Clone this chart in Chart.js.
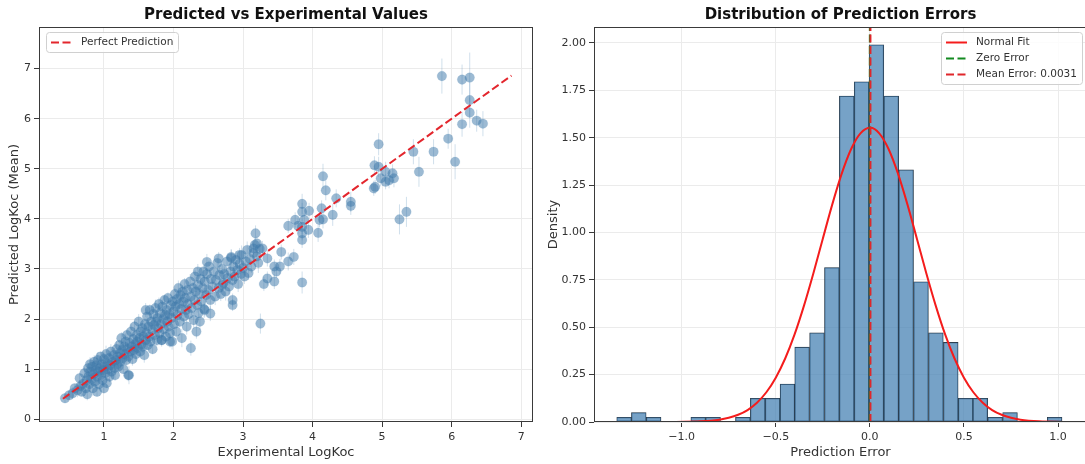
<!DOCTYPE html>
<html>
<head>
<meta charset="utf-8">
<script src="https://cdn.jsdelivr.net/npm/chart.js@4.4.1/dist/chart.umd.min.js"></script>
<style>
  html, body { margin: 0; padding: 0; background: #fff; overflow: hidden; width: 1085px; height: 464px; }
  #predChart { position: absolute; left: 0; top: 0; }
  #errChart { position: absolute; left: 540px; top: 0; }
</style>
</head>
<body>
<canvas id="predChart" width="540" height="464"></canvas>
<canvas id="errChart" width="547" height="464"></canvas>
<script>
// ---- left panel: predicted vs experimental ----
var experimental = [
  // low end of the band
  0.44,0.50,0.55,0.58,0.62,0.65,0.66,0.70,0.72,0.74,0.75,0.77,0.78,0.79,0.80,0.80,0.68,0.76,
  0.82,0.83,0.84,0.85,0.86,0.87,0.88,0.89,0.90,0.90,
  0.91,0.92,0.93,0.94,0.95,0.96,0.97,0.98,0.99,1.00,
  1.00,1.01,1.02,1.03,1.04,1.05,1.06,1.07,1.08,1.09,
  1.10,1.11,1.12,1.14,1.15,1.16,1.17,1.18,1.19,1.20,
  1.21,1.22,1.23,1.24,1.25,1.26,1.27,1.28,1.29,1.30,
  1.31,1.32,1.33,1.34,1.35,1.36,1.37,1.38,1.39,1.40,
  1.41,1.42,1.43,1.44,1.45,1.46,1.47,1.48,1.49,1.50,
  1.51,1.52,1.53,1.54,1.55,1.56,1.57,1.58,1.59,1.60,
  1.61,1.62,1.63,1.64,1.65,1.66,1.67,1.68,1.69,1.70,
  1.71,1.72,1.73,1.74,1.75,1.76,1.77,1.78,1.79,1.80,
  1.81,1.82,1.83,1.84,1.85,1.86,1.87,1.88,1.89,1.90,
  1.91,1.92,1.93,1.94,1.95,1.96,1.97,1.98,1.99,2.00,
  2.01,2.02,2.03,2.04,2.05,2.06,2.07,2.08,2.09,2.10,
  2.11,2.12,2.13,2.14,2.15,2.16,2.17,2.18,2.19,2.20,
  2.21,2.22,2.24,2.25,2.26,2.28,2.29,2.30,2.31,2.32,
  2.34,2.35,2.36,2.38,2.39,2.40,
  2.42,2.43,2.44,2.45,2.47,2.48,2.50,2.51,2.53,2.54,
  2.56,2.58,2.60,2.61,2.63,2.65,2.66,2.68,2.70,2.72,
  2.73,2.75,2.77,2.78,2.80,
  2.82,2.83,2.85,2.86,2.88,2.90,2.92,2.93,2.95,2.97,
  2.98,3.00,3.02,3.04,3.06,3.08,3.10,3.12,3.15,3.17,
  3.20,3.22,3.24,
  // upper range and outliers
  5.86,6.15,6.26,6.26,6.26,6.15,6.36,6.45,5.95,6.05,
  5.74,5.45,5.53,4.95,4.89,4.95,5.05,5.15,5.10,5.17,
  5.05,4.98,4.88,4.90,5.35,5.25,4.55,4.55,4.15,4.19,
  4.34,4.29,4.13,4.15,4.10,4.08,3.95,3.85,3.85,3.85,
  3.85,3.85,3.79,3.88,3.94,3.65,3.75,3.85,3.65,3.73,
  3.55,3.35,3.45,3.53,3.48,3.35,3.45,3.30,3.25,3.18,
  3.20,3.28,3.15,
  2.25,2.33,2.38,1.95,1.83,1.35,1.60,2.35,2.48,2.65,
  2.83,2.95,2.85,2.85,2.70,2.45,2.53
];
var predicted = [
  0.42,0.48,0.52,0.62,0.58,0.82,0.66,0.71,0.92,0.62,0.78,1.02,0.86,0.70,0.95,1.10,0.55,0.50,
  0.80,1.05,0.62,0.90,1.15,0.75,0.98,1.08,0.55,0.85,
  1.18,0.95,0.70,1.02,1.25,0.88,1.10,0.78,0.98,1.20,
  0.62,1.05,0.92,1.30,0.72,1.12,1.00,1.22,0.85,1.08,
  1.35,0.95,1.15,1.28,1.02,0.88,1.18,1.40,1.10,1.25,
  1.05,1.48,1.32,1.15,1.62,1.38,1.22,1.00,1.45,1.30,
  1.55,1.18,1.68,1.40,1.25,0.88,1.52,1.35,1.75,1.45,
  1.20,1.60,1.38,1.85,1.50,1.30,1.68,1.55,1.42,1.95,
  1.62,1.35,1.75,1.50,1.82,1.45,1.65,1.28,1.90,1.58,
  1.72,2.05,1.48,1.85,1.65,2.18,1.55,1.95,1.78,1.40,
  2.10,1.88,1.68,2.22,1.95,1.58,2.02,1.82,2.30,1.72,
  2.12,1.90,1.58,2.25,2.00,1.80,2.38,2.08,1.65,2.18,
  1.95,2.42,1.85,2.10,1.72,2.28,2.02,1.55,2.35,2.15,
  1.90,2.50,2.25,1.75,2.40,2.08,2.62,2.30,1.95,2.48,
  2.20,1.62,2.55,2.35,2.05,2.70,2.42,2.18,1.85,2.58,
  2.30,2.10,2.75,2.45,2.22,2.62,1.98,2.38,2.85,2.55,
  2.28,2.68,2.12,2.50,2.80,2.35,
  2.62,2.95,2.20,2.75,2.48,2.90,2.58,3.05,2.38,2.80,
  2.65,2.95,2.45,2.78,3.12,2.62,2.88,2.50,3.00,2.72,
  2.90,2.55,3.15,2.82,2.65,
  2.95,3.22,2.78,3.05,2.85,3.18,2.98,2.70,3.10,2.90,
  3.28,3.02,2.85,3.15,3.38,2.92,3.20,3.05,3.32,3.48,
  3.25,3.12,3.40,
  6.85,6.78,6.82,6.37,6.12,5.89,5.96,5.90,5.60,5.14,
  5.34,5.34,4.94,5.49,5.07,5.04,4.94,4.91,4.77,4.81,
  4.74,4.81,4.61,4.64,4.14,3.99,4.34,4.26,4.85,4.57,
  4.41,4.08,4.21,3.99,3.98,3.72,4.16,4.30,4.14,3.84,
  3.71,3.58,3.86,3.98,3.78,3.86,3.98,2.73,3.15,3.24,
  3.34,3.21,3.05,3.05,2.95,2.81,2.75,2.70,1.91,3.71,
  3.51,3.41,3.41,
  1.42,1.75,1.95,1.55,1.58,0.88,2.18,2.95,3.14,3.21,
  3.24,3.28,2.28,2.38,2.68,2.18,2.11
];
var predictedStd = [
  0.10,0.08,0.12,0.09,0.14,0.11,0.08,0.10,0.13,0.09,0.12,0.15,0.10,0.08,0.11,0.14,0.09,0.12,
  0.12,0.10,0.15,0.09,0.13,0.11,0.08,0.14,0.10,0.12,
  0.16,0.09,0.11,0.13,0.10,0.14,0.08,0.12,0.09,0.15,
  0.11,0.10,0.13,0.17,0.09,0.12,0.08,0.14,0.11,0.10,
  0.15,0.09,0.12,0.13,0.10,0.11,0.14,0.16,0.09,0.12,
  0.13,0.11,0.09,0.15,0.12,0.10,0.14,0.08,0.13,0.11,
  0.16,0.09,0.12,0.14,0.10,0.18,0.11,0.09,0.15,0.12,
  0.13,0.10,0.14,0.11,0.09,0.16,0.12,0.10,0.13,0.15,
  0.11,0.09,0.14,0.12,0.10,0.13,0.11,0.15,0.12,0.09,
  0.12,0.14,0.10,0.13,0.16,0.11,0.09,0.15,0.12,0.10,
  0.14,0.11,0.13,0.17,0.10,0.12,0.15,0.09,0.13,0.11,
  0.12,0.16,0.10,0.14,0.11,0.13,0.09,0.15,0.12,0.10,
  0.13,0.11,0.17,0.09,0.14,0.12,0.10,0.16,0.11,0.13,
  0.14,0.12,0.10,0.16,0.11,0.13,0.15,0.09,0.12,0.14,
  0.10,0.18,0.13,0.11,0.15,0.12,0.09,0.14,0.16,0.11,
  0.13,0.10,0.15,0.12,0.14,0.11,0.17,0.09,0.13,0.12,
  0.15,0.10,0.14,0.12,0.11,0.13,
  0.15,0.12,0.18,0.11,0.14,0.13,0.16,0.12,0.19,0.10,
  0.14,0.13,0.17,0.11,0.15,0.12,0.16,0.14,0.13,0.11,
  0.15,0.18,0.12,0.14,0.16,
  0.14,0.17,0.12,0.15,0.13,0.18,0.11,0.16,0.14,0.12,
  0.19,0.13,0.15,0.12,0.17,0.14,0.16,0.13,0.18,0.15,
  0.14,0.20,0.16,
  0.35,0.30,0.50,0.35,0.30,0.25,0.22,0.25,0.20,0.35,
  0.25,0.25,0.30,0.22,0.18,0.20,0.20,0.18,0.16,0.18,
  0.15,0.16,0.15,0.14,0.30,0.30,0.20,0.18,0.25,0.20,
  0.18,0.22,0.16,0.18,0.15,0.18,0.16,0.20,0.18,0.15,
  0.14,0.16,0.15,0.14,0.16,0.14,0.15,0.22,0.18,0.16,
  0.15,0.16,0.14,0.15,0.13,0.14,0.15,0.14,0.20,0.16,
  0.14,0.15,0.13,
  0.15,0.14,0.16,0.12,0.13,0.12,0.14,0.15,0.16,0.13,
  0.15,0.14,0.12,0.13,0.14,0.13,0.15
];
var diagonalRange = [0.41, 6.86];
var predXTicks = [1, 2, 3, 4, 5, 6, 7];
var predYTicks = [0, 1, 2, 3, 4, 5, 6, 7];

// ---- right panel: error histogram ----
var binCenters = [-1.306,-1.228,-1.149,-1.070,-0.991,-0.912,-0.833,-0.754,-0.675,-0.596,
                  -0.517,-0.438,-0.360,-0.281,-0.202,-0.123,-0.044,0.035,0.114,0.193,
                  0.272,0.351,0.430,0.509,0.587,0.666,0.745,0.824,0.903,0.982];
var density = [0.025,0.05,0.025,0,0,0.025,0.025,0,0.025,0.125,
               0.125,0.20,0.395,0.47,0.815,1.72,1.795,1.99,1.72,1.33,
               0.74,0.47,0.42,0.125,0.125,0.025,0.05,0,0,0.025];
var fitX = [-1.03,-0.9,-0.8,-0.75,-0.7,-0.65,-0.6,-0.55,-0.5,-0.45,-0.4,-0.35,-0.3,-0.25,-0.2,-0.15,-0.1,-0.05,
            0.003,0.05,0.1,0.15,0.2,0.25,0.3,0.35,0.4,0.45,0.5,0.55,0.6,0.65,0.7,0.75,0.8,0.9,1.03];
var fitY = [0.0005,0.0034,0.0122,0.022,0.038,0.063,0.102,0.157,0.234,0.335,0.462,0.614,0.785,0.967,1.147,1.309,1.439,1.523,
            1.552,1.523,1.439,1.309,1.147,0.967,0.785,0.614,0.462,0.335,0.234,0.157,0.102,0.063,0.038,0.022,0.0122,0.0034,0.0005];
var zeroError = 0;
var meanError = 0.0031;
var errXTicks = [-1.0, -0.5, 0.0, 0.5, 1.0];
var errXLabels = ['\u22121.0', '\u22120.5', '0.0', '0.5', '1.0'];
var densityTicks = [0, 0.25, 0.5, 0.75, 1.0, 1.25, 1.5, 1.75, 2.0];
var densityLabels = ['0.00', '0.25', '0.50', '0.75', '1.00', '1.25', '1.50', '1.75', '2.00'];

Chart.defaults.font.family = "'DejaVu Sans', sans-serif";
Chart.defaults.color = '#333';
Chart.defaults.animation = false;

var GRID = '#ebebeb';
var SPINE = '#3a3a3a';

// box round the plotting area, like matplotlib spines
var framePlugin = {
  id: 'frame',
  afterDraw: function(chart) {
    var a = chart.chartArea, ctx = chart.ctx;
    ctx.save();
    ctx.strokeStyle = SPINE;
    ctx.lineWidth = 1;
    ctx.strokeRect(Math.round(a.left) + 0.5, Math.round(a.top) + 0.5,
                   Math.round(a.right - a.left) - 1, Math.round(a.bottom - a.top) - 1);
    ctx.restore();
  }
};

// legend drawn inside the axes, with line samples
var lineLegend = {
  id: 'lineLegend',
  afterDraw: function(chart, args, opts) {
    var items = chart.data.datasets.filter(function(d) { return d.label; });
    if (!items.length) return;
    var ctx = chart.ctx, a = chart.chartArea;
    ctx.save();
    ctx.font = "10.5px 'DejaVu Sans', sans-serif";
    var tw = Math.max.apply(null, items.map(function(d) { return ctx.measureText(d.label).width; }));
    var w = Math.round(35 + tw + 5), h = 16 * items.length + 4;
    var x0 = opts.side === 'right' ? Math.round(a.right - opts.inset - w) : Math.round(a.left + opts.inset);
    var y0 = Math.round(a.top + 5);
    ctx.fillStyle = 'rgba(255,255,255,0.85)';
    ctx.strokeStyle = '#d0d0d0';
    ctx.lineWidth = 1;
    ctx.beginPath();
    if (ctx.roundRect) ctx.roundRect(x0 + 0.5, y0 + 0.5, w, h, 3); else ctx.rect(x0 + 0.5, y0 + 0.5, w, h);
    ctx.fill();
    ctx.stroke();
    items.forEach(function(d, i) {
      var cy = y0 + 10.5 + i * 16;
      ctx.strokeStyle = d.borderColor;
      ctx.lineWidth = d.borderWidth;
      ctx.setLineDash(d.borderDash || []);
      ctx.beginPath();
      ctx.moveTo(x0 + 5, cy);
      ctx.lineTo(x0 + 26, cy);
      ctx.stroke();
      ctx.setLineDash([]);
      ctx.fillStyle = '#333';
      ctx.textBaseline = 'middle';
      ctx.fillText(d.label, x0 + 35, cy);
    });
    ctx.restore();
  }
};

// vertical error bars (mean +/- std) under the scatter markers
var errorBars = {
  id: 'errorBars',
  beforeDatasetsDraw: function(chart) {
    var ys = chart.scales.y, ctx = chart.ctx;
    var meta = chart.getDatasetMeta(0);
    ctx.save();
    ctx.strokeStyle = 'rgba(70,130,180,0.25)';
    ctx.lineWidth = 1;
    meta.data.forEach(function(pt, i) {
      var v = predicted[i], s = predictedStd[i];
      ctx.beginPath();
      ctx.moveTo(pt.x, ys.getPixelForValue(v - s));
      ctx.lineTo(pt.x, ys.getPixelForValue(v + s));
      ctx.stroke();
    });
    ctx.restore();
  }
};

function tickSetter(values) {
  return function(scale) { scale.ticks = values.map(function(v) { return { value: v }; }); };
}

var scatterPoints = experimental.map(function(x, i) { return { x: x, y: predicted[i] }; });

new Chart(document.getElementById('predChart'), {
  type: 'scatter',
  data: {
    datasets: [{
      data: scatterPoints,
      pointRadius: 4.8,
      pointBackgroundColor: 'rgba(66,122,170,0.52)',
      pointBorderColor: 'rgba(66,122,170,0.2)',
      pointBorderWidth: 0.5,
      order: 1
    }, {
      type: 'line',
      label: 'Perfect Prediction',
      data: diagonalRange.map(function(v) { return { x: v, y: v }; }),
      borderColor: '#e3262d',
      borderWidth: 2,
      borderDash: [8, 3.5],
      pointRadius: 0,
      fill: false,
      order: 0
    }]
  },
  options: {
    responsive: false,
    layout: { padding: { left: 0, right: 7, top: 0, bottom: 0 } },
    plugins: {
      legend: { display: false },
      tooltip: { enabled: false },
      title: {
        display: true, fullSize: false,
        text: 'Predicted vs Experimental Values',
        font: { size: 15, weight: 'bold' }, color: '#111',
        padding: { top: 6, bottom: 3 }
      },
      lineLegend: { side: 'left', inset: 7 }
    },
    scales: {
      x: {
        type: 'linear', min: 0.066, max: 7.17,
        afterBuildTicks: tickSetter(predXTicks),
        afterFit: function(s) { s.height = 42; },
        ticks: { font: { size: 11 }, color: '#333', padding: 4, maxRotation: 0, autoSkip: false,
                 callback: function(v) { return String(v); } },
        grid: { color: GRID, tickColor: SPINE, tickLength: 5 },
        border: { display: false },
        title: { display: true, text: 'Experimental LogKoc', font: { size: 13 }, color: '#333',
                 padding: { top: 0, bottom: 4 } }
      },
      y: {
        type: 'linear', min: -0.054, max: 7.83,
        afterBuildTicks: tickSetter(predYTicks),
        afterFit: function(s) { s.width = 39; },
        ticks: { font: { size: 11 }, color: '#333', padding: 3, autoSkip: false,
                 callback: function(v) { return String(v); } },
        grid: { color: GRID, tickColor: SPINE, tickLength: 5 },
        border: { display: false },
        title: { display: true, text: 'Predicted LogKoc (Mean)', font: { size: 13 }, color: '#333',
                 padding: { top: 7, bottom: 0 } }
      }
    }
  },
  plugins: [errorBars, framePlugin, lineLegend]
});

new Chart(document.getElementById('errChart'), {
  type: 'bar',
  data: {
    datasets: [{
      type: 'bar',
      data: binCenters.map(function(c, i) { return { x: c, y: density[i] || null }; }),
      backgroundColor: 'rgba(70,130,180,0.74)',
      borderColor: 'rgba(15,25,35,0.9)',
      borderWidth: 0.6,
      borderSkipped: false,
      barPercentage: 1,
      categoryPercentage: 1,
      order: 4
    }, {
      type: 'line',
      label: 'Normal Fit',
      data: fitX.map(function(x, i) { return { x: x, y: fitY[i] }; }),
      borderColor: '#f41c1c',
      borderWidth: 2,
      pointRadius: 0,
      cubicInterpolationMode: 'monotone',
      fill: false,
      order: 3
    }, {
      type: 'line',
      label: 'Zero Error',
      data: [{ x: zeroError, y: 0 }, { x: zeroError, y: 2.084 }],
      borderColor: '#138a20',
      borderWidth: 2,
      borderDash: [8, 3.5],
      pointRadius: 0,
      fill: false,
      order: 2
    }, {
      type: 'line',
      label: 'Mean Error: ' + meanError.toFixed(4),
      data: [{ x: meanError, y: 0 }, { x: meanError, y: 2.084 }],
      borderColor: '#e0262b',
      borderWidth: 2,
      borderDash: [8, 3.5],
      pointRadius: 0,
      fill: false,
      order: 1
    }]
  },
  options: {
    responsive: false,
    layout: { padding: { left: 0, right: 0, top: 0, bottom: 0 } },
    plugins: {
      legend: { display: false },
      tooltip: { enabled: false },
      title: {
        display: true, fullSize: false,
        text: 'Distribution of Prediction Errors',
        font: { size: 15, weight: 'bold' }, color: '#111',
        padding: { top: 6, bottom: 3 }
      },
      lineLegend: { side: 'right', inset: 5 }
    },
    scales: {
      x: {
        type: 'linear', min: -1.466, max: 1.154, offset: false,
        afterBuildTicks: tickSetter(errXTicks),
        afterFit: function(s) { s.height = 42; },
        ticks: { font: { size: 11 }, color: '#333', padding: 4, maxRotation: 0, autoSkip: false,
                 callback: function(v, i) { return errXLabels[i]; } },
        grid: { color: GRID, tickColor: SPINE, tickLength: 5, offset: false },
        border: { display: false },
        title: { display: true, text: 'Prediction Error', font: { size: 13 }, color: '#333',
                 padding: { top: 0, bottom: 4 } }
      },
      y: {
        type: 'linear', min: 0, max: 2.084,
        afterBuildTicks: tickSetter(densityTicks),
        afterFit: function(s) { s.width = 54; },
        ticks: { font: { size: 11 }, color: '#333', padding: 3, autoSkip: false,
                 callback: function(v, i) { return densityLabels[i]; } },
        grid: { color: GRID, tickColor: SPINE, tickLength: 5 },
        border: { display: false },
        title: { display: true, text: 'Density', font: { size: 13 }, color: '#333',
                 padding: { top: 6, bottom: 0 } }
      }
    }
  },
  plugins: [framePlugin, lineLegend]
});
</script>
</body>
</html>
